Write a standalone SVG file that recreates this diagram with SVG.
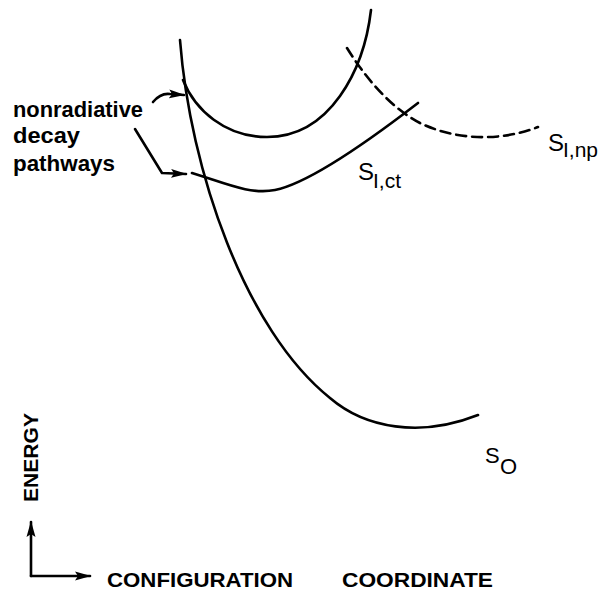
<svg xmlns="http://www.w3.org/2000/svg" width="607" height="591" viewBox="0 0 607 591">
<style>
.c{fill:none;stroke:#000;stroke-width:2.6;stroke-linecap:round;stroke-linejoin:round}
.d{stroke-dasharray:10 6}
.t{font-family:"Liberation Sans",Arial,sans-serif;fill:#000}
.b{font-weight:bold}
</style>
<defs>
<marker id="ah" markerUnits="userSpaceOnUse" markerWidth="16" markerHeight="10" refX="15" refY="5" orient="auto">
<path d="M0,0.5 L16,5 L0,9.5 L3,5 Z" fill="#000"/>
</marker>
</defs>
<rect width="607" height="591" fill="#fff"/>
<g id="curves">
<path id="s1upper" class="c" d="M371,10 C364,70 330,137 267,137 C225,137 195,110 183,80"/>
<path id="s0" class="c" d="M180,40 C190,170 245,330 330,398 C365,428 420,438 478,415"/>
<path id="s1ct" class="c" d="M192,173 C225,183 250,195 275,190 C310,183 370,140 418,103"/>
<path id="s1np" class="c d" d="M347,48 C370,85 395,110 420,123 C455,140 500,142 538,127"/>
</g>
<g id="connectors">
<path class="c" d="M153,102 C158,96 163,93 170,94 L184,95" marker-end="url(#ah)"/>
<path class="c" d="M135,129 L162,173 L186,174" marker-end="url(#ah)"/>
<path class="c" d="M31,576 L31,522" marker-end="url(#ah)"/>
<path class="c" d="M31,576 L90,576" marker-end="url(#ah)"/>
</g>
<g id="label-nonrad">
<text class="t b" x="13" y="117" font-size="22" textLength="130" lengthAdjust="spacingAndGlyphs">nonradiative</text>
<text class="t b" x="13" y="143" font-size="22" textLength="67" lengthAdjust="spacingAndGlyphs">decay</text>
<text class="t b" x="13" y="171" font-size="22" textLength="102" lengthAdjust="spacingAndGlyphs">pathways</text>
</g>
<g id="label-s1np">
<text class="t" x="548" y="151" font-size="24">S</text>
<text class="t" x="563" y="157" font-size="21">I,np</text>
</g>
<g id="label-s1ct">
<text class="t" x="358" y="180" font-size="24">S</text>
<text class="t" x="373" y="188" font-size="21">I,ct</text>
</g>
<g id="label-s0">
<text class="t" x="485" y="463" font-size="22">S</text>
<text class="t" x="500" y="474" font-size="22">O</text>
</g>
<g id="axes-labels">
<text class="t b" transform="translate(38,502) rotate(-90)" font-size="21" textLength="89" lengthAdjust="spacingAndGlyphs">ENERGY</text>
<text class="t b" x="107" y="587" font-size="21" textLength="186" lengthAdjust="spacingAndGlyphs">CONFIGURATION</text>
<text class="t b" x="342" y="587" font-size="21" textLength="151" lengthAdjust="spacingAndGlyphs">COORDINATE</text>
</g>
</svg>
